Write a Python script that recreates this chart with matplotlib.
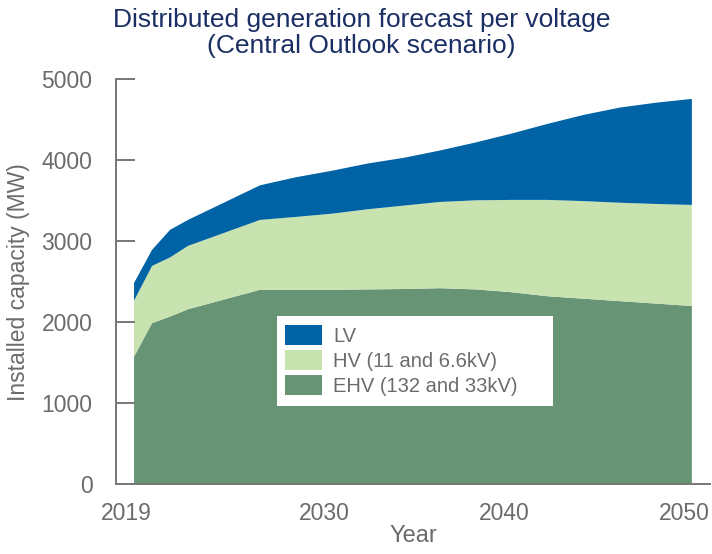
import numpy as np
import matplotlib
matplotlib.use("Agg")
import matplotlib.pyplot as plt
import matplotlib.transforms as mtransforms
from matplotlib.patches import Rectangle

# values (MW, cumulative tops of each band)
years = [2019, 2020, 2021, 2022, 2026, 2028, 2030, 2032, 2034, 2036, 2038,
         2040, 2042, 2044, 2046, 2048, 2050]
ehv = [1575, 1988, 2070, 2160, 2400, 2400, 2400, 2405, 2410, 2420, 2405,
       2370, 2320, 2290, 2260, 2230, 2200]
hv_top = [2265, 2695, 2800, 2942, 3263, 3300, 3340, 3395, 3440, 3485, 3505,
          3510, 3510, 3495, 3475, 3460, 3448]
lv_top = [2485, 2893, 3140, 3263, 3690, 3790, 3870, 3960, 4030, 4120, 4220,
          4330, 4450, 4560, 4650, 4710, 4757]

hv = np.array(hv_top) - np.array(ehv)
lv = np.array(lv_top) - np.array(hv_top)

labels = ["LV", "HV (11 and 6.6kV)", "EHV (132 and 33kV)"]
colors = {"LV": "#0063a6", "HV": "#c8e2b0", "EHV": "#669474"}
xticks = [2019, 2030, 2040, 2050]
yticks = [0, 1000, 2000, 3000, 4000, 5000]

plt.rcParams["font.family"] = ["Liberation Sans", "DejaVu Sans"]
grey = "#6b6b6b"

fig = plt.figure(figsize=(7.12, 5.54), dpi=100)
ax = fig.add_axes([0.163, 0.126, 0.834, 0.731])

p = ax.stackplot(years, ehv, hv, lv,
                 colors=[colors["EHV"], colors["HV"], colors["LV"]],
                 linewidth=0)

ax.set_xlim(2018.0, 2051.0)
ax.set_ylim(0, 5000)
ax.set_xticks(xticks)
ax.set_yticks(yticks)
ax.tick_params(axis="x", length=0, pad=13, labelsize=16.5, labelcolor=grey)
ax.tick_params(axis="y", direction="in", length=14, width=1.4, color="#777777",
               pad=17, labelsize=16.5, labelcolor=grey)

# nudge year labels slightly left, as in the reference
shift = mtransforms.ScaledTranslation(-8 / 100, 0, fig.dpi_scale_trans)
for lab in ax.get_xticklabels():
    lab.set_transform(lab.get_transform() + shift)

for s in ["top", "right"]:
    ax.spines[s].set_visible(False)
for s in ["left", "bottom"]:
    ax.spines[s].set_color("#777777")
    ax.spines[s].set_linewidth(1.4)

ax.set_xlabel("Year", fontsize=17, color=grey, labelpad=0)
ax.set_ylabel("Installed capacity (MW)", fontsize=16.5, color=grey, labelpad=8)

fig.suptitle("Distributed generation forecast per voltage\n(Central Outlook scenario)",
             fontsize=19, color="#1b2f64", x=0.508, y=0.985, linespacing=1.1)

# white legend box
ax.add_patch(Rectangle((0.271, 0.193), 0.465, 0.222, transform=ax.transAxes,
                       facecolor="white", edgecolor="none", zorder=3))
leg = ax.legend([p[2], p[1], p[0]], labels, loc="upper left",
                bbox_to_anchor=(0.2845, 0.392), fontsize=14.5,
                frameon=False, handlelength=1.85, handleheight=1.1,
                labelspacing=0.22, handletextpad=0.55, borderpad=0,
                borderaxespad=0)
leg.set_zorder(4)
for t in leg.get_texts():
    t.set_color(grey)

fig.savefig("out.png", dpi=100)
